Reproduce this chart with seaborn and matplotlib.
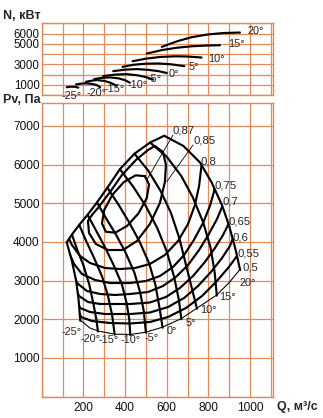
import numpy as np
import matplotlib
matplotlib.use("Agg")
import matplotlib.pyplot as plt
import seaborn as sns
from matplotlib.patches import Polygon

# ---------------- data ----------------
angle_labels = ["-25°", "-20°", "-15°", "-10°", "-5°", "0°", "5°", "10°", "15°", "20°"]

# power curves N(Q), upper panel
n_Q = [
    [120, 140, 160, 176],
    [165, 190, 216, 245, 265, 280],
    [212, 240, 264, 300, 330, 360],
    [252, 290, 328, 370, 400, 423],
    [295, 350, 408, 460, 500, 535],
    [343, 400, 456, 510, 560, 600],
    [388, 440, 500, 560, 620, 684],
    [436, 500, 570, 640, 700, 767],
    [504, 580, 650, 720, 790, 855],
    [576, 650, 720, 800, 870, 951],
]
n_N = [
    [760, 810, 800, 720],
    [1040, 1110, 1140, 1070, 960, 760],
    [1290, 1400, 1460, 1380, 1200, 900],
    [1560, 1680, 1720, 1620, 1450, 1200],
    [1850, 1990, 2040, 1920, 1750, 1500],
    [2330, 2480, 2530, 2460, 2330, 2150],
    [2750, 2950, 3060, 3080, 3000, 2820],
    [3300, 3550, 3720, 3780, 3760, 3660],
    [4050, 4400, 4620, 4760, 4830, 4860],
    [4700, 5250, 5650, 5920, 6050, 6100],
]
n_label_Q = [145, 265, 350, 459, 543, 634, 730, 838, 934, 1028]
n_label_N = [-100, 240, 590, 980, 1560, 2050, 2730, 3510, 4980, 6250]

# pressure curves Pv(Q) for each blade angle, lower panel
pv_Q = [
    [120, 145, 165, 177, 185],
    [145, 170, 200, 228, 248, 262, 270],
    [180, 215, 250, 290, 318, 338, 350],
    [220, 260, 300, 345, 385, 408, 420, 425],
    [265, 310, 355, 400, 445, 472, 490, 500],
    [315, 370, 420, 470, 515, 545, 565, 580],
    [375, 440, 500, 555, 600, 635, 658, 670],
    [445, 510, 570, 620, 660, 690, 718, 745],
    [520, 600, 670, 725, 775, 810, 830, 840],
    [588, 680, 760, 815, 865, 900, 930, 952],
]
pv_P = [
    [3990, 3500, 3000, 2500, 1960],
    [4190, 3800, 3400, 2900, 2400, 2000, 1680],
    [4440, 4000, 3600, 3100, 2600, 2100, 1600],
    [4700, 4300, 3900, 3400, 2900, 2400, 2000, 1590],
    [5020, 4600, 4200, 3750, 3200, 2700, 2200, 1650],
    [5400, 4950, 4500, 4000, 3450, 2900, 2300, 1780],
    [5880, 5420, 4920, 4350, 3750, 3100, 2500, 2000],
    [6280, 5850, 5320, 4750, 4100, 3450, 2850, 2270],
    [6570, 6200, 5700, 5150, 4500, 3850, 3200, 2610],
    [6745, 6480, 6050, 5540, 4950, 4400, 3800, 3270],
]
pv_label_Q = [144, 235, 323, 428, 527, 626, 716, 802, 891, 987]
pv_label_P = [1676, 1488, 1462, 1462, 1513, 1707, 1901, 2238, 2582, 2949]

# stall (surge) line: start points of the angle curves
stall_Q = [120, 145, 180, 220, 265, 315, 375, 445, 520, 588]
stall_P = [3990, 4190, 4440, 4700, 5020, 5400, 5880, 6280, 6570, 6745]

# efficiency contours
eff_labels = ["0,87", "0,85", "0,8", "0,75", "0,7", "0,65", "0,6", "0,55", "0,5"]
eff_Q = [
    [495, 515, 504, 465, 410, 353, 308, 289, 300, 339, 394, 451, 495],
    [543, 582, 596, 591, 567, 519, 457, 390, 318, 260, 227, 222, 241, 270, 328, 385, 452, 510, 543],
    [117, 145, 184, 232, 304, 376, 448, 519, 591, 654, 702, 735, 755, 764, 774],
    [126, 155, 193, 256, 328, 424, 500, 567, 630, 683, 730, 774, 807, 826, 836],
    [141, 169, 217, 280, 352, 424, 510, 582, 644, 702, 755, 802, 841, 865, 879],
    [150, 179, 222, 280, 424, 519, 596, 663, 726, 783, 831, 870, 894, 908],
    [160, 184, 232, 304, 424, 519, 606, 683, 750, 812, 865, 903, 922],
    [169, 189, 241, 328, 424, 519, 606, 692, 769, 836, 894, 937, 951],
    [185, 230, 270, 350, 425, 500, 580, 670, 745, 840, 900, 952],
]
eff_P = [
    [5699, 5484, 5133, 4742, 4413, 4238, 4261, 4476, 4827, 5218, 5547, 5722, 5699],
    [6480, 6325, 5989, 5549, 5006, 4463, 4023, 3790, 3790, 3945, 4230, 4540, 4695, 4877, 5291, 5730, 6118, 6377, 6480],
    [4256, 3919, 3635, 3454, 3324, 3298, 3324, 3428, 3661, 4023, 4463, 4954, 5446, 5859, 6325],
    [3790, 3428, 3169, 3014, 2936, 2936, 2988, 3117, 3350, 3661, 4049, 4489, 4928, 5291, 5601],
    [3324, 2936, 2729, 2652, 2626, 2652, 2703, 2859, 3092, 3402, 3790, 4204, 4592, 4902, 5135],
    [2962, 2600, 2445, 2393, 2393, 2432, 2574, 2807, 3117, 3480, 3842, 4178, 4437, 4644],
    [2600, 2290, 2186, 2134, 2134, 2173, 2315, 2548, 2859, 3221, 3583, 3894, 4152],
    [2290, 2057, 1953, 1901, 1889, 1927, 2057, 2290, 2600, 2962, 3324, 3635, 3842],
    [1960, 1760, 1680, 1600, 1590, 1650, 1780, 2000, 2270, 2610, 2930, 3270],
]
eff_label_Q = [628, 726, 760, 831, 868, 894, 916, 938, 964]
eff_label_P = [6881, 6610, 6079, 5446, 5032, 4540, 4126, 3712, 3337]
# leader lines for 0,87 and 0,85
lead_Q = [[630, 504], [726, 600]]
lead_P = [[6765, 5601], [6506, 5557]]

q_ticks = [0, 100, 200, 300, 400, 500, 600, 700, 800, 900, 1000, 1100]
q_labels = ["", "", "200", "", "400", "", "600", "", "800", "", "1000", ""]
n_ticks = [0, 1000, 2000, 3000, 4000, 5000, 6000, 7000]
n_labels = ["", "1000", "", "3000", "", "5000", "6000", ""]
p_ticks = [0, 1000, 2000, 3000, 4000, 5000, 6000, 7000]
p_labels = ["", "1000", "2000", "3000", "4000", "5000", "6000", "7000"]

# ---------------- style ----------------
sns.set_theme(style="white")
plt.rcParams['font.family'] = ['Liberation Sans', 'DejaVu Sans']
GRID = '#e3895a'
LW = 1.55
FS = 8.6
FS_ANG = 7.8

fig = plt.figure(figsize=(3.23, 4.18), dpi=100)
ax_n = fig.add_axes([0.1291, 0.7727, 0.7164, 0.1715])
ax_p = fig.add_axes([0.1291, 0.0514, 0.7164, 0.7029])

for ax, yt, yl, ylim in [(ax_n, n_ticks, n_labels, 7000), (ax_p, p_ticks, p_labels, 7600)]:
    ax.set_xlim(0, 1110)
    ax.set_ylim(0, ylim)
    ax.set_xticks(q_ticks)
    ax.set_yticks(yt)
    ax.set_yticklabels(yl)
    ax.grid(True, color=GRID, lw=0.9)
    ax.set_axisbelow(True)
    for s in ax.spines.values():
        s.set_color(GRID)
        s.set_linewidth(1.0)
    ax.tick_params(length=0, labelsize=FS, colors='#111111', pad=1.5)
    ax.set_xlabel("")
    ax.set_ylabel("")
ax_n.set_xticklabels([])
ax_n.tick_params(axis='y', labelsize=8.3)
ax_p.set_xticklabels(q_labels)
ax_p.tick_params(axis='x', pad=4)

# upper panel: power curves
for q, n, lab, lq, ln in zip(n_Q, n_N, angle_labels, n_label_Q, n_label_N):
    sns.lineplot(x=q, y=n, ax=ax_n, color='black', lw=LW, sort=False, estimator=None)
    ax_n.text(lq, ln, lab, fontsize=FS_ANG, va='center', ha='center', clip_on=False)

# lower panel: envelope used for clipping
env_q = stall_Q + pv_Q[9][1:] + eff_Q[8][::-1][1:] + pv_Q[0][::-1][1:-1]
env_p = stall_P + pv_P[9][1:] + eff_P[8][::-1][1:] + pv_P[0][::-1][1:-1]
env = Polygon(np.column_stack([env_q, env_p]), closed=True,
              facecolor='none', edgecolor='none')
env.set_transform(ax_p.transData)

for q, p, lab, lq, lp in zip(eff_Q, eff_P, eff_labels, eff_label_Q, eff_label_P):
    sns.lineplot(x=q, y=p, ax=ax_p, color='black', lw=LW, sort=False, estimator=None)
    ax_p.lines[-1].set_clip_path(env)
    ax_p.text(lq, lp, lab, fontsize=8.2, va='center', ha='left')

sns.lineplot(x=stall_Q, y=stall_P, ax=ax_p, color='black', lw=LW, sort=False, estimator=None)
for q, p, lab, lq, lp in zip(pv_Q, pv_P, angle_labels, pv_label_Q, pv_label_P):
    sns.lineplot(x=q, y=p, ax=ax_p, color='black', lw=LW, sort=False, estimator=None)
    ax_p.text(lq, lp, lab, fontsize=FS_ANG, va='center', ha='center')

for q, p in zip(lead_Q, lead_P):
    sns.lineplot(x=q, y=p, ax=ax_p, color='black', lw=0.6, sort=False, estimator=None)

ax_p.set_xlim(0, 1110)
ax_p.set_ylim(0, 7600)
ax_n.set_xlim(0, 1110)
ax_n.set_ylim(0, 7000)

fig.text(0.010, 0.962, "N, кВт", fontsize=9, fontweight='bold', va='center', ha='left')
fig.text(0.010, 0.760, "Pv, Па", fontsize=9, fontweight='bold', va='center', ha='left')
fig.text(0.858, 0.026, "Q, м³/с", fontsize=9, fontweight='bold', va='center', ha='left')

fig.savefig("out.png", dpi=100)
